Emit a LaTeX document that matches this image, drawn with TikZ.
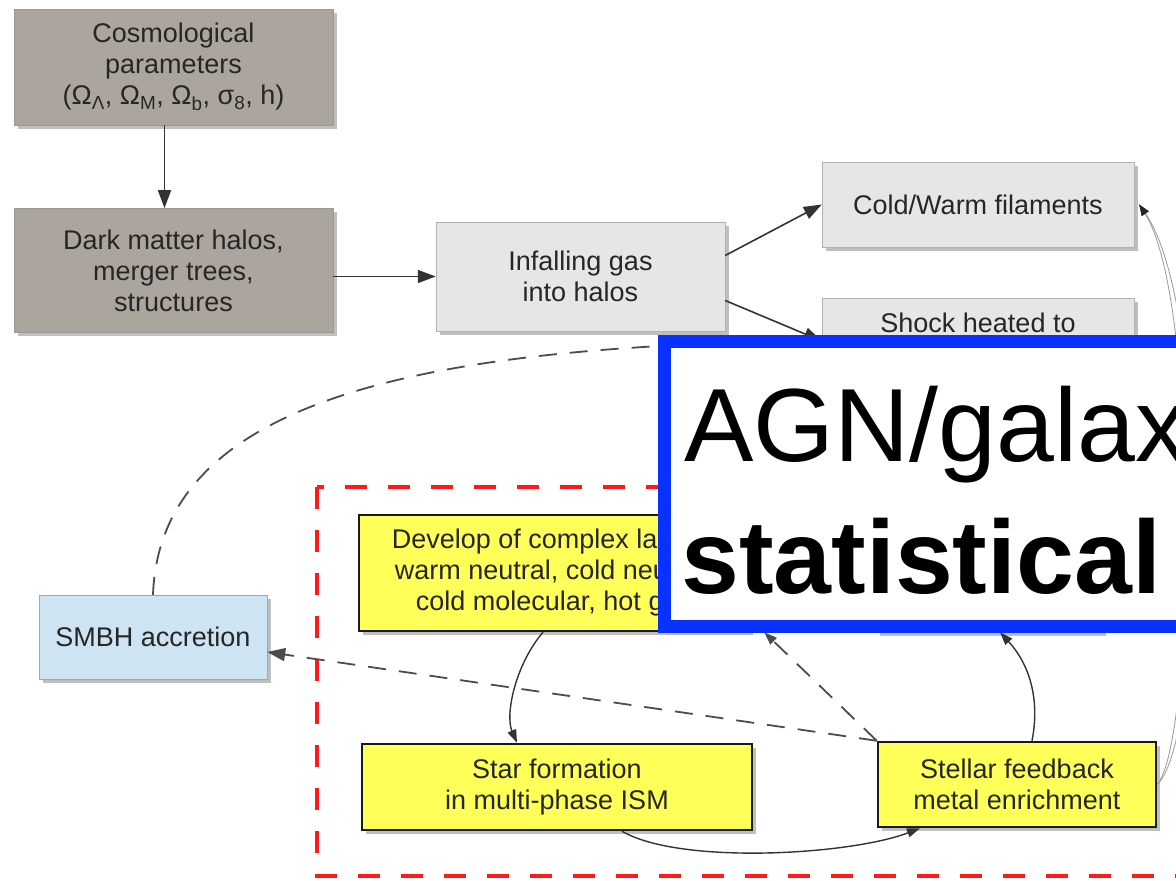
\documentclass[tikz,border=0pt]{standalone}
\usepackage{fontspec}
\setmainfont{Liberation Sans}
\usetikzlibrary{arrows.meta,positioning,shadows}

\definecolor{halogray}{RGB}{172,165,158}
\definecolor{gaslight}{RGB}{230,230,230}
\definecolor{ismyellow}{RGB}{255,255,90}
\definecolor{bhblue}{RGB}{206,228,243}
\definecolor{bannerblue}{RGB}{10,50,255}
\definecolor{regionred}{RGB}{255,25,25}

\begin{document}
\begin{tikzpicture}[
  x=1pt, y=-1pt,
  box/.style={align=center, inner sep=0pt, text=black!85, font=\fontsize{27}{31}\selectfont,
    drop shadow={shadow xshift=4pt, shadow yshift=-4pt, fill=black!50}},
  halo/.style={box, draw=black!40, fill=halogray},
  gas/.style={box, draw=black!30, fill=gaslight},
  ism/.style={box, draw=black!90, line width=2.5pt, fill=ismyellow},
  bh/.style={box, draw=black!35, fill=bhblue},
  arrow/.style={-{Triangle[length=18pt,width=13pt]}, line width=1.6pt, black!80},
  smallarrow/.style={-{Triangle[length=13pt,width=9pt]}, line width=1.4pt, black!80},
  dline/.style={line width=1.8pt, black!70, dash pattern=on 18pt off 13pt},
  darrow/.style={dline, -{Triangle[length=18pt,width=13pt]}},
  loopline/.style={-{Triangle[length=11pt,width=8pt,color=black!85]}, line width=0.8pt, black!40},
  region/.style={regionred, line width=4.5pt, dash pattern=on 22pt off 21pt},
  banner/.style={bannerblue, line width=13pt, fill=white}
]
  \useasboundingbox (0,0) rectangle (1176,881);
  \clip (0,0) rectangle (1176,881);

  % galaxy region
  \draw[region] (317,487) rectangle (1200,876);

  \node[halo, minimum width=319pt, minimum height=116pt] (cosmo) at (173.5,67)
    {Cosmological\\parameters\\(Ω\textsubscript{Λ}, Ω\textsubscript{M}, Ω\textsubscript{b}, σ\textsubscript{8}, h)};
  \node[halo, minimum width=319pt, minimum height=124pt, below=83pt of cosmo] (dm)
    {Dark matter halos,\\merger trees,\\structures};

  \node[gas, minimum width=289pt, minimum height=109pt] (infalling) at (580.5,276.5) {Infalling gas\\into halos};
  \node[gas, minimum width=312pt, minimum height=85pt] (cold) at (978,204.5) {Cold/Warm filaments};
  \node[gas, minimum width=312pt, minimum height=86pt] (shock) at (978,341) {Shock heated to\\virial temperature};

  \node[bh, minimum width=228pt, minimum height=84pt] (smbh) at (153,637) {SMBH accretion};

  \node[ism, minimum width=390pt, minimum height=116pt] (develop) at (554,573)
    {Develop of complex layers:\\warm neutral, cold neutral,\\cold molecular, hot gas};
  \node[gas, minimum width=226pt, minimum height=110pt] (coolbox) at (989,577) {};
  \node[ism, minimum width=390pt, minimum height=86pt] (star) at (557,787) {Star formation\\in multi-phase ISM};
  \node[ism, minimum width=278pt, minimum height=85pt] (stellar) at (1017,784.5) {Stellar feedback\\metal enrichment};

  \draw[arrow] ([xshift=-9pt]cosmo.south) -- ([xshift=-9pt]dm.north);
  \draw[arrow] (infalling.west -| dm.east) -- (infalling.west);
  \draw[arrow] ([yshift=21pt]infalling.east) -- (cold.west);
  \draw[arrow] ([yshift=-24pt]infalling.east) -- (shock.west);

  \draw[dline] (smbh.north) .. controls (160,400) and (420,345) .. (shock.west);
  \draw[darrow] (stellar.north west) -- ([yshift=-15pt]smbh.east);
  \draw[dline, -{Triangle[length=13pt,width=9pt]}] (stellar.north west) -- ([xshift=14pt]develop.south east);

  \draw[smallarrow] ([xshift=-11pt]develop.south) .. controls (515,665) and (505,715) .. ([xshift=-40pt]star.north);
  \draw[smallarrow] ([xshift=65pt]star.south) .. controls (680,865) and (850,855) .. ([xshift=-97pt]stellar.south);
  \draw[smallarrow] ([xshift=15pt]stellar.north) .. controls (1040,700) and (1030,665) .. ([xshift=11pt]coolbox.south);

  \draw[loopline] (stellar.east) .. controls (1195,740) and (1200,300) .. ([xshift=5pt]cold.east);
  \draw[loopline] (stellar.east) .. controls (1205,740) and (1212,310) .. ([xshift=5pt]cold.east);

  % title box on top
  \draw[banner] (664.5,341.5) rectangle (1220,626.5);
  \node[anchor=base west, inner sep=0pt, font=\fontsize{104}{120}\selectfont] (agn) at (684,461) {AGN/galax};
  \node[anchor=base west, inner sep=0pt, font=\fontsize{104}{120}\selectfont\bfseries] (stat) at (681,593) {statistical};
\end{tikzpicture}
\end{document}
